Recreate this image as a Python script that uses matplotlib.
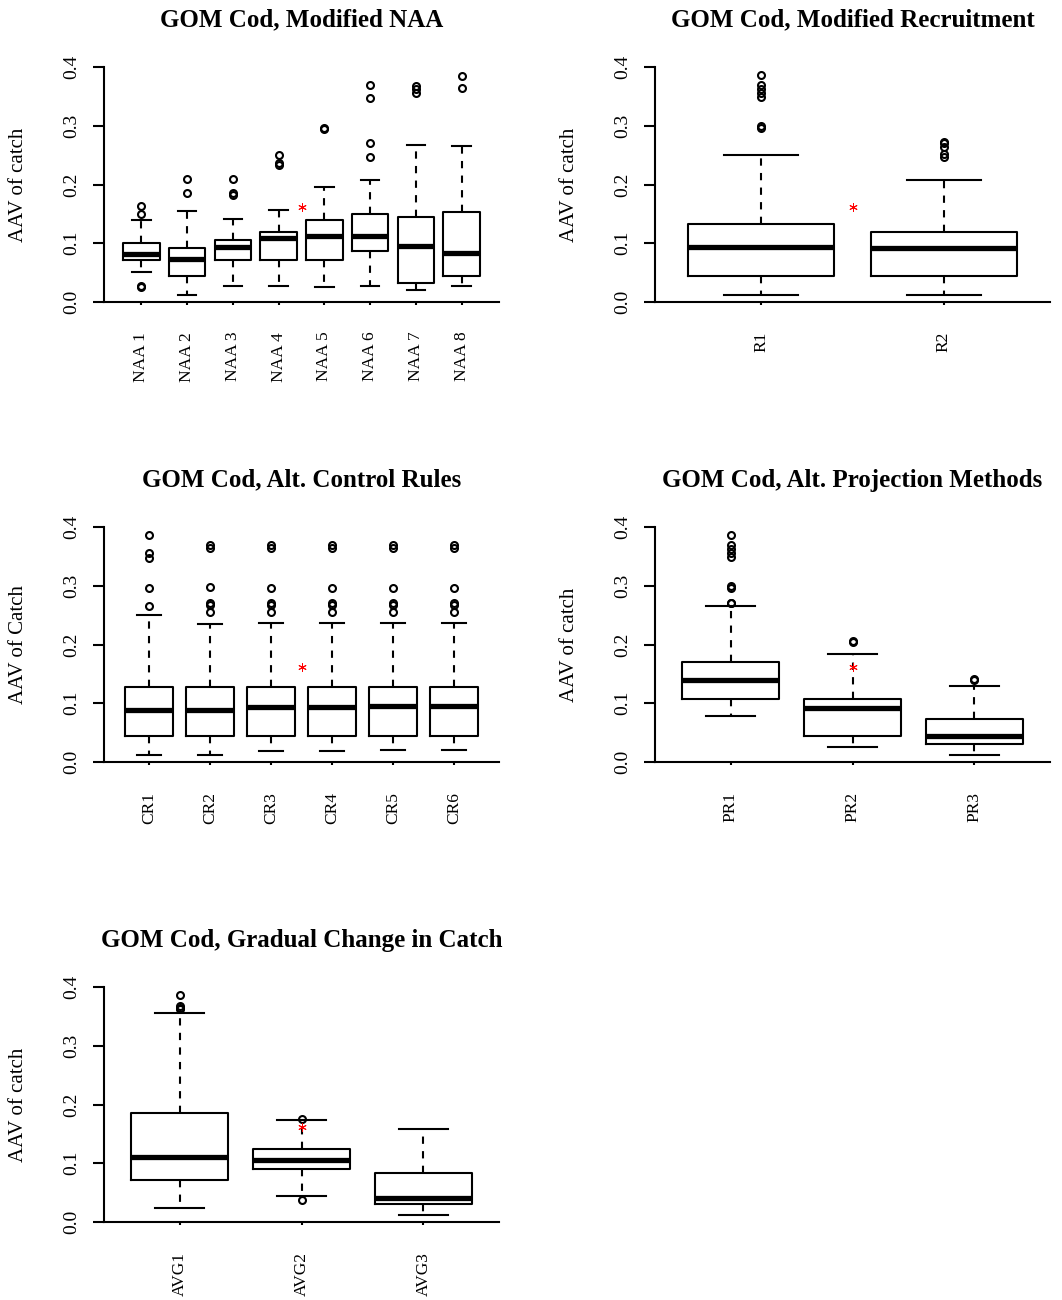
import matplotlib
matplotlib.use("Agg")
import matplotlib.pyplot as plt

plt.rcParams['font.family'] = ['Liberation Serif', 'DejaVu Serif']

# ---- AAV of catch summaries: whisker low, Q1, median, Q3, whisker high, outliers ----
naa_names = ['NAA 1', 'NAA 2', 'NAA 3', 'NAA 4', 'NAA 5', 'NAA 6', 'NAA 7', 'NAA 8']
naa_lo = [0.051, 0.012, 0.028, 0.028, 0.026, 0.028, 0.020, 0.028]
naa_q1 = [0.071, 0.044, 0.071, 0.071, 0.071, 0.086, 0.032, 0.045]
naa_med = [0.082, 0.073, 0.094, 0.109, 0.112, 0.112, 0.095, 0.084]
naa_q3 = [0.100, 0.092, 0.106, 0.120, 0.140, 0.150, 0.145, 0.154]
naa_hi = [0.139, 0.155, 0.142, 0.157, 0.196, 0.207, 0.268, 0.265]
naa_out = [[0.027, 0.025, 0.149, 0.163],
           [0.186, 0.210],
           [0.182, 0.186, 0.210],
           [0.233, 0.237, 0.250],
           [0.295, 0.297],
           [0.247, 0.271, 0.348, 0.369],
           [0.355, 0.363, 0.367],
           [0.365, 0.384]]

rec_names = ['R1', 'R2']
rec_lo = [0.012, 0.012]
rec_q1 = [0.045, 0.045]
rec_med = [0.094, 0.092]
rec_q3 = [0.132, 0.119]
rec_hi = [0.250, 0.207]
rec_out = [[0.296, 0.299, 0.349, 0.355, 0.363, 0.369, 0.386],
           [0.247, 0.252, 0.264, 0.270, 0.272]]

cr_names = ['CR1', 'CR2', 'CR3', 'CR4', 'CR5', 'CR6']
cr_lo = [0.012, 0.012, 0.019, 0.019, 0.020, 0.020]
cr_q1 = [0.044, 0.044, 0.045, 0.045, 0.045, 0.045]
cr_med = [0.088, 0.088, 0.094, 0.094, 0.095, 0.095]
cr_q3 = [0.128, 0.127, 0.127, 0.127, 0.128, 0.128]
cr_hi = [0.250, 0.235, 0.237, 0.237, 0.237, 0.237]
cr_out = [[0.265, 0.297, 0.348, 0.356, 0.386],
          [0.255, 0.268, 0.271, 0.298, 0.365, 0.369],
          [0.255, 0.268, 0.271, 0.297, 0.365, 0.369],
          [0.255, 0.268, 0.271, 0.297, 0.365, 0.369],
          [0.255, 0.268, 0.271, 0.297, 0.365, 0.369],
          [0.255, 0.268, 0.271, 0.297, 0.365, 0.369]]

pr_names = ['PR1', 'PR2', 'PR3']
pr_lo = [0.078, 0.026, 0.012]
pr_q1 = [0.107, 0.044, 0.031]
pr_med = [0.140, 0.092, 0.045]
pr_q3 = [0.171, 0.108, 0.073]
pr_hi = [0.265, 0.183, 0.129]
pr_out = [[0.270, 0.271, 0.297, 0.299, 0.349, 0.355, 0.363, 0.369, 0.386],
          [0.204, 0.206],
          [0.139, 0.142]]

avg_names = ['AVG1', 'AVG2', 'AVG3']
avg_lo = [0.024, 0.044, 0.012]
avg_q1 = [0.072, 0.091, 0.030]
avg_med = [0.110, 0.106, 0.041]
avg_q3 = [0.186, 0.124, 0.084]
avg_hi = [0.356, 0.173, 0.159]
avg_out = [[0.363, 0.365, 0.367, 0.386],
           [0.038, 0.175],
           []]

# red star: value of the base case and where it sits on the x axis
star_value = 0.161
naa_star_x = 4.5
rec_star_x = 1.5
cr_star_x = 3.5
pr_star_x = 2
avg_star_x = 2

W, H = 1062, 1300
fig = plt.figure(figsize=(W / 100, H / 100), dpi=100)


def make_axes(left, right, top, bottom):
    return fig.add_axes([left / W, 1 - bottom / H, (right - left) / W, (bottom - top) / H])


def panel(ax, title, ylabel, names, lo, q1, med, q3, hi, out, star_x):
    stats = []
    for i in range(len(names)):
        stats.append(dict(whislo=lo[i], q1=q1[i], med=med[i], q3=q3[i],
                          whishi=hi[i], fliers=out[i], label=names[i]))
    n = len(names)
    ax.bxp(stats, positions=range(1, n + 1), widths=0.8, capwidths=0.4,
           boxprops=dict(color='black', linewidth=1.5),
           medianprops=dict(color='black', linewidth=3.8, solid_capstyle='butt'),
           whiskerprops=dict(color='black', linewidth=1.5, linestyle=(0, (3.5, 3.5))),
           capprops=dict(color='black', linewidth=1.5),
           flierprops=dict(marker='o', markerfacecolor='none', markeredgecolor='black',
                           markersize=5, markeredgewidth=1.5))
    ax.plot([star_x], [star_value], linestyle='none', marker=(6, 2, 0),
            color='red', markersize=6, markeredgewidth=0.7)

    # R-style 4% padding around the box slots
    ax.set_xlim(0.5 - 0.04 * n, n + 0.5 + 0.04 * n)
    ax.set_ylim(0, 0.4)
    ax.set_yticks([0.0, 0.1, 0.2, 0.3, 0.4])
    ax.set_yticklabels(['0.0', '0.1', '0.2', '0.3', '0.4'])
    ax.set_xticks(range(1, n + 1))
    ax.set_xticklabels(names, rotation=90)

    for side in ['top', 'right']:
        ax.spines[side].set_visible(False)
    for side in ['left', 'bottom']:
        ax.spines[side].set_linewidth(1.5)
    ax.tick_params(axis='y', length=8, width=1.5, labelsize=14, pad=9)
    for lab in ax.get_yticklabels():
        lab.set_rotation(90)
        lab.set_va('center')
    ax.tick_params(axis='x', length=2.5, width=1.5, labelsize=12.5, pad=19)

    ax.set_title(title, fontsize=18, fontweight='bold', pad=29)
    ax.set_ylabel(ylabel, fontsize=15)
    ax.yaxis.set_label_coords(-76 / 395, 0.5)


ax1 = make_axes(104, 499, 67, 302)
panel(ax1, 'GOM Cod, Modified NAA', 'AAV of catch',
      naa_names, naa_lo, naa_q1, naa_med, naa_q3, naa_hi, naa_out, naa_star_x)

ax2 = make_axes(655, 1050, 67, 302)
panel(ax2, 'GOM Cod, Modified Recruitment', 'AAV of catch',
      rec_names, rec_lo, rec_q1, rec_med, rec_q3, rec_hi, rec_out, rec_star_x)

ax3 = make_axes(104, 499, 527, 762)
panel(ax3, 'GOM Cod, Alt. Control Rules', 'AAV of Catch',
      cr_names, cr_lo, cr_q1, cr_med, cr_q3, cr_hi, cr_out, cr_star_x)

ax4 = make_axes(655, 1050, 527, 762)
panel(ax4, 'GOM Cod, Alt. Projection Methods', 'AAV of catch',
      pr_names, pr_lo, pr_q1, pr_med, pr_q3, pr_hi, pr_out, pr_star_x)

ax5 = make_axes(104, 499, 987, 1222)
panel(ax5, 'GOM Cod, Gradual Change in Catch', 'AAV of catch',
      avg_names, avg_lo, avg_q1, avg_med, avg_q3, avg_hi, avg_out, avg_star_x)

fig.savefig('out.png', dpi=100, facecolor='white')
